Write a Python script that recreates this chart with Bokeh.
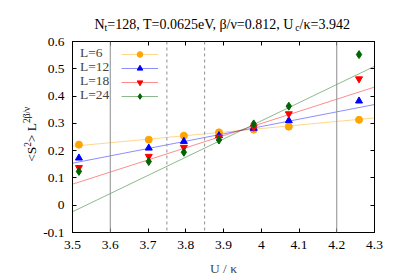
import math
from bokeh.plotting import figure
from bokeh.layouts import column, row
from bokeh.models import (Span, Legend, LegendItem, LinearAxis, FixedTicker,
                          CustomJSTickFormatter, Range1d)
from bokeh.core.properties import value
from bokeh.embed import file_html
from bokeh.resources import INLINE

# ---------------- data ----------------
u_vals = [3.517, 3.702, 3.795, 3.888, 3.980, 4.073, 4.259]
series_labels = ["L=6", "L=12", "L=18", "L=24"]
s_L6 = [0.222, 0.240, 0.255, 0.267, 0.277, 0.288, 0.313]
s_L12 = [0.173, 0.2095, 0.234, 0.255, 0.282, 0.310, 0.382]
s_L18 = [0.138, 0.179, 0.212, 0.249, 0.286, 0.335, 0.463]
s_L24 = [0.124, 0.160, 0.194, 0.239, 0.298, 0.363, 0.552]
fit_u = [3.5, 4.3]
fit_L6 = [0.216, 0.320]
fit_L12 = [0.154, 0.369]
fit_L18 = [0.077, 0.433]
fit_L24 = [-0.024, 0.509]
x_ticks = [3.5, 3.6, 3.7, 3.8, 3.9, 4.0, 4.1, 4.2, 4.3]
y_ticks = [-0.1, 0.0, 0.1, 0.2, 0.3, 0.4, 0.5, 0.6]
solid_marks = [3.6, 4.2]
dashed_marks = [3.75, 3.85]
title_parts = ["N", "t", "=128, T=0.0625eV, β/ν=0.812, U", "c", "/κ=3.942"]
ylabel_parts = ["<S", "2", "> L", "2β/ν"]
xlabel = "U / κ"

# ---------------- style ----------------
FONT = "Liberation Serif"
FS = 13.5
colors = ["#ffa500", "#0000ff", "#ff0000", "#006400"]
markers = ["circle", "triangle", "inverted_triangle", "diamond"]
msizes = [7, 7, 7, 8]

TW, TH = 398, 33      # title strip
YW = 40               # y-label strip
MW, MH = TW - YW, 245 # main figure
FR_TOP, FR_H = 8, 192 # main frame offset/height inside main figure

def blank_fig(w, h, xr, yr):
    f = figure(width=w, height=h, x_range=xr, y_range=yr, output_backend="svg",
               toolbar_location=None, x_axis_type=None, y_axis_type=None,
               min_border=0, title=None)
    f.outline_line_color = None
    return f

# ---------------- main plot ----------------
p = figure(width=MW, height=MH, x_range=Range1d(3.5, 4.3), y_range=Range1d(-0.1, 0.6),
           output_backend="svg", toolbar_location=None, title=None,
           min_border_left=31, min_border_right=24, min_border_top=FR_TOP,
           min_border_bottom=MH - FR_TOP - FR_H)
p.xgrid.visible = False
p.ygrid.visible = False
p.outline_line_color = "black"
p.outline_line_width = 1

fmt = CustomJSTickFormatter(code="return (Math.round(tick*10)/10).toString();")

def style(ax, ticks, labels):
    ax.ticker = FixedTicker(ticks=ticks)
    ax.major_tick_in = 4
    ax.major_tick_out = 0
    ax.minor_tick_line_color = None
    ax.axis_line_color = "black"
    ax.major_tick_line_color = "black"
    if labels:
        ax.formatter = fmt
        ax.major_label_text_font = FONT
        ax.major_label_text_font_size = f"{FS}px"
        ax.major_label_text_color = "black"
        ax.major_label_text_line_height = 1.0
        ax.major_label_standoff = 8
    else:
        ax.formatter = CustomJSTickFormatter(code="return '';")
        ax.major_label_text_font_size = "1px"
        ax.major_label_standoff = 0

style(p.xaxis[0], x_ticks, True)
style(p.yaxis[0], y_ticks, True)
p.xaxis[0].axis_label = xlabel
p.xaxis[0].axis_label_text_font = FONT
p.xaxis[0].axis_label_text_font_size = f"{FS}px"
p.xaxis[0].axis_label_text_font_style = "normal"
p.xaxis[0].axis_label_text_line_height = 1.0
p.xaxis[0].axis_label_standoff = 9
top_ax = LinearAxis()
right_ax = LinearAxis()
style(top_ax, x_ticks, False)
style(right_ax, y_ticks, False)
p.add_layout(top_ax, "above")
p.add_layout(right_ax, "right")

for loc in solid_marks:
    p.add_layout(Span(location=loc, dimension="height", line_color="#8c8c8c", line_width=1))
for loc in dashed_marks:
    p.add_layout(Span(location=loc, dimension="height", line_color="#8c8c8c",
                      line_width=1, line_dash="3 3"))

# legend rows (one small legend per row, text first then sample, gnuplot style)
LEG_FS = 13.5
ROW_H = 16            # legend row height for this font
row_center_top = 13.2 # first row centre below frame top (px)
row_pitch = 13.8
leg_common = dict(border_line_color=None, background_fill_alpha=0, padding=0, margin=0,
                  spacing=0, glyph_height=14, label_height=14, label_standoff=0,
                  label_text_font=FONT, label_text_font_size=f"{LEG_FS}px",
                  label_text_line_height=1.0, label_text_baseline="middle")

series = [s_L6, s_L12, s_L18, s_L24]
fits = [fit_L6, fit_L12, fit_L18, fit_L24]
for i, (lab, ys, fy, c, m, ms) in enumerate(zip(series_labels, series, fits, colors, markers, msizes)):
    lr = p.line(fit_u, fy, line_color=c, line_alpha=0.45, line_width=1)
    sr = p.scatter(u_vals, ys, marker=m, size=ms, fill_color=c, line_color=c)
    dummy = p.scatter(x=[], y=[], marker="circle", size=1, fill_alpha=0, line_alpha=0)
    yc = row_center_top + i * row_pitch
    ly = int(round(FR_H - yc - ROW_H / 2))
    p.add_layout(Legend(items=[LegendItem(label=lab, renderers=[dummy])],
                        location=(7, ly), glyph_width=1, **leg_common), "center")
    p.add_layout(Legend(items=[LegendItem(label=" ", renderers=[lr, sr])],
                        location=(49, ly), glyph_width=37, **leg_common), "center")

# ---------------- title strip ----------------
tf = blank_fig(TW, TH, Range1d(0, TW), Range1d(TH, 0))
TF = 14.0
SF = TF * 0.7
x0 = 94.0
yb = 24.0
x1 = x0 + 0.722 * TF
x2 = x1 + 0.278 * SF
x3 = x2 + 13.419 * TF
x4 = x3 + 0.444 * SF
tf.text(x=[x0, x2, x4], y=[yb, yb, yb], text=[title_parts[0], title_parts[2], title_parts[4]],
        text_font=value(FONT), text_font_size=value(f"{TF}px"), text_color="black",
        text_align="left", text_baseline="alphabetic")
tf.text(x=[x1, x3], y=[yb + 2.8, yb + 2.8], text=[title_parts[1], title_parts[3]],
        text_font=value(FONT), text_font_size=value(f"{SF:.1f}px"), text_color="black",
        text_align="left", text_baseline="alphabetic")

# ---------------- y-label strip (its frame is aligned with the main frame) ----------------
fr_top_page = TH + FR_TOP
yf = blank_fig(YW, MH, Range1d(0, YW), Range1d(fr_top_page + FR_H, fr_top_page))
YF = FS
YS = YF * 0.7
yx = 31.0
yy = 162.0
yy2 = yy - 1.12 * YF
yy3 = yy2 - 0.5 * YS
yy4 = yy3 - 1.425 * YF
rot = math.pi / 2
yf.text(x=[yx, yx], y=[yy, yy3], text=[ylabel_parts[0], ylabel_parts[2]],
        text_font=value(FONT), text_font_size=value(f"{YF}px"), text_color="black",
        angle=rot, text_align="left", text_baseline="middle")
yf.text(x=[yx - 4.5, yx - 4.5], y=[yy2, yy4], text=[ylabel_parts[1], ylabel_parts[3]],
        text_font=value(FONT), text_font_size=value(f"{YS:.1f}px"), text_color="black",
        angle=rot, text_align="left", text_baseline="middle")

layout = column(tf, row(yf, p))
open("out.html", "w").write(file_html(layout, INLINE))
